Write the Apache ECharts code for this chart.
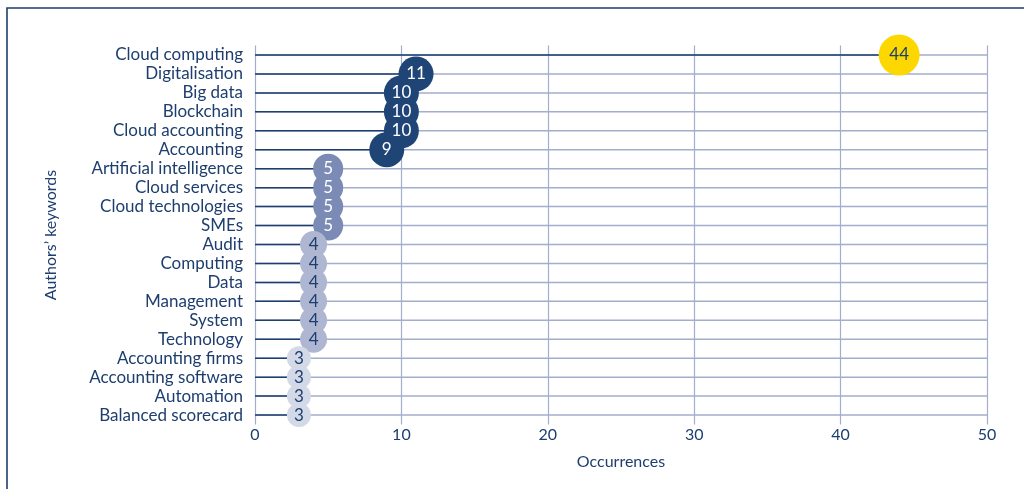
<!DOCTYPE html>
<html>
<head>
<meta charset="utf-8">
<script src="https://cdn.jsdelivr.net/npm/echarts@6/dist/echarts.min.js"></script>
<style>
  html, body { margin: 0; padding: 0; background: #ffffff; }
  #chart { width: 1024px; height: 489px; }
</style>
</head>
<body>
<div id="chart"></div>
<script>
// Keyword frequencies (top to bottom)
const keywords = [
  'Cloud computing', 'Digitalisation', 'Big data', 'Blockchain', 'Cloud accounting',
  'Accounting', 'Artificial intelligence', 'Cloud services', 'Cloud technologies', 'SMEs',
  'Audit', 'Computing', 'Data', 'Management', 'System', 'Technology',
  'Accounting firms', 'Accounting software', 'Automation', 'Balanced scorecard'
];
const occurrences = [44, 11, 10, 10, 10, 9, 5, 5, 5, 5, 4, 4, 4, 4, 4, 4, 3, 3, 3, 3];
const xTicks = [0, 10, 20, 30, 40, 50];

const NAVY = '#1d3e6e';
const GRID = '#a3adcc';

// Bubble appearance by frequency band
function bubbleStyle(v) {
  if (v >= 40) return { size: 41, color: '#fdd800', text: NAVY };
  if (v >= 9)  return { size: 35, color: '#1f4577', text: '#ffffff' };
  if (v >= 5)  return { size: 30, color: '#7b8bb5', text: '#ffffff' };
  if (v >= 4)  return { size: 27, color: '#aeb6d2', text: NAVY };
  return { size: 24, color: '#d4d9e7', text: NAVY };
}

const chart = echarts.init(document.getElementById('chart'));
chart.setOption({
  animation: false,
  textStyle: { fontFamily: 'Lato, "Open Sans", sans-serif' },
  graphic: [{
    type: 'polyline',
    shape: { points: [[1024, 8], [7, 8], [7, 489]] },
    style: { stroke: NAVY, lineWidth: 1.6, fill: null }
  }],
  grid: { left: 255, right: 37, top: 45.5, bottom: 64.5, containLabel: false },
  xAxis: {
    type: 'value',
    min: xTicks[0],
    max: xTicks[xTicks.length - 1],
    interval: 10,
    name: 'Occurrences',
    nameLocation: 'middle',
    nameGap: 29,
    nameTextStyle: { color: NAVY, fontSize: 16 },
    axisLine: { show: false },
    axisTick: { show: false },
    axisLabel: { color: NAVY, fontSize: 16, margin: 2 },
    splitLine: { show: true, lineStyle: { color: GRID, width: 1.2 } }
  },
  yAxis: {
    type: 'category',
    data: keywords,
    inverse: true,
    boundaryGap: true,
    name: 'Authors\u2019 keywords',
    nameLocation: 'middle',
    nameRotate: 90,
    nameGap: 196,
    nameTextStyle: { color: NAVY, fontSize: 16 },
    axisLine: { show: false },
    axisTick: { show: false },
    axisLabel: { color: NAVY, fontSize: 17, margin: 12, interval: 0 },
    splitLine: { show: false }
  },
  series: [
    {
      type: 'bar',
      data: occurrences,
      barWidth: 1.5,
      itemStyle: { color: NAVY },
      showBackground: true,
      backgroundStyle: { color: GRID },
      z: 2
    },
    {
      type: 'scatter',
      data: occurrences.map((v, i) => {
        const s = bubbleStyle(v);
        return {
          value: [v, keywords[i]],
          symbolSize: s.size,
          itemStyle: { color: s.color, opacity: 1 },
          label: { color: s.text }
        };
      }),
      label: {
        show: true,
        position: 'inside',
        fontSize: 17,
        formatter: p => p.value[0]
      },
      z: 3
    }
  ]
});
</script>
</body>
</html>
